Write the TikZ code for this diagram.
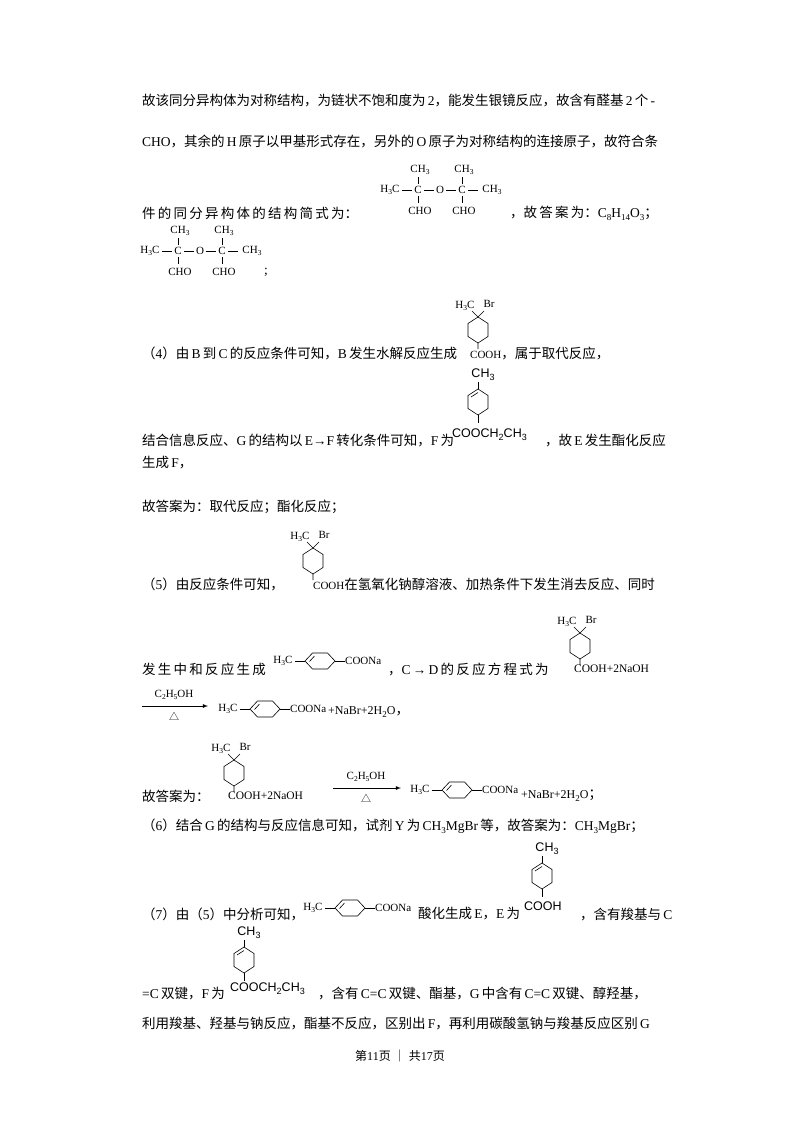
\documentclass[tikz,border=0pt]{standalone}
\usepackage{fontspec}
\setmainfont{Liberation Serif}
\newfontfamily\cjkf{Noto Sans CJK SC}
\newfontfamily\latf{Liberation Serif}
\newfontfamily\sansf{Liberation Sans}
\newXeTeXintercharclass\cjkclass
\count255="4E00
\loop\XeTeXcharclass\count255=\cjkclass\ifnum\count255<"9FFF\advance\count255 1\repeat
\count255="FF00
\loop\XeTeXcharclass\count255=\cjkclass\ifnum\count255<"FFEF\advance\count255 1\repeat
\count255="3000
\loop\XeTeXcharclass\count255=\cjkclass\ifnum\count255<"303F\advance\count255 1\repeat
\XeTeXinterchartoks 0 \cjkclass={\cjkf}
\XeTeXinterchartoks 4095 \cjkclass={\cjkf}
\XeTeXinterchartoks \cjkclass 0={\latf}
\XeTeXinterchartoks \cjkclass 4095={\latf}
\newcommand\sbs[1]{\raisebox{-3pt}{\fontsize{9}{9}\selectfont #1}}
\newcommand\csb[1]{\raisebox{-2pt}{\fontsize{7.5}{7.5}\selectfont #1}}
\tikzset{
 txt/.style={anchor=west,inner sep=0pt,font=\fontsize{13.5}{14}\selectfont},
 chem/.style={inner sep=0pt,font=\latf\fontsize{11}{11}\selectfont},
 schem/.style={inner sep=0pt,font=\sansf\fontsize{12.5}{13}\selectfont},
 bond/.style={line width=0.6pt},
 ether/.pic={
  \node[chem] at (10,0) {H\csb{3}C};
  \draw[bond] (22,0)--(32,0) (44,0)--(54,0) (66,0)--(76,0) (88,0)--(98,0);
  \node[chem] at (38,0) {C}; \node[chem] at (60,0) {O}; \node[chem] at (82,0) {C};
  \node[chem] at (112,0) {CH\csb{3}};
  \foreach \x in {38,82}{
   \draw[bond] (\x,-13)--(\x,-6) (\x,6)--(\x,13);
   \node[chem] at (\x+2,-20) {CH\csb{3}};
   \node[chem] at (\x+2,21) {CHO};}
 },
 brring/.pic={
  \draw[bond] (0,-13)--(10,-6.5)--(10,6.5)--(0,13)--(-10,6.5)--(-10,-6.5)--cycle;
  \draw[bond] (0,-13)--(-6,-19) (0,-13)--(6,-19) (0,13)--(0,19);
  \node[chem] at (-13,-24) {H\csb{3}C};
  \node[chem] at (11,-26) {Br};
 },
 mering/.pic={
  \draw[bond] (0,-13)--(10,-6.5)--(10,6.5)--(0,13)--(-10,6.5)--(-10,-6.5)--cycle;
  \draw[bond] (-7,-5)--(0,-9.5);
  \draw[bond] (0,-13)--(0,-20) (0,13)--(0,21);
  \node[schem] at (5,-27) {CH\sbs{3}};
 },
 hring/.pic={
  \node[chem] at (0,0) {H\csb{3}C};
  \draw[bond] (12,0)--(22,0) (52,0)--(62,0);
  \draw[bond] (22,0)--(29.5,-8)--(44.5,-8)--(52,0)--(44.5,8)--(29.5,8)--cycle;
  \draw[bond] (26.5,0.5)--(31.5,-5);
  \node[chem,anchor=west] at (62,0) {COONa};
 }
}
\begin{document}
\XeTeXinterchartokenstate=1
\begin{tikzpicture}[x=1pt,y=-1pt]
\useasboundingbox[fill=white] (0,0) rectangle (800,1132);
\node[txt] (l1) at (142,100) {故该同分异构体为对称结构，为链状不饱和度为\,2，能发生银镜反应，故含有醛基\,2\,个\,-};
\node[txt] (l2) at (142,141) {CHO，其余的\,H\,原子以甲基形式存在，另外的\,O\,原子为对称结构的连接原子，故符合条};
\node[txt] (l3) at (142,213) {件\,的\,同\,分\,异\,构\,体\,的\,结\,构\,简\,式\,为：};
\pic at (380,190) {ether};
\node[txt] (l3b) at (510,213) {，故\,答\,案\,为：C\sbs{8}H\sbs{14}O\sbs{3}；};
\pic at (140,251) {ether};
\node[txt] (l4) at (264,272) {;};
\pic at (478,330) {brring};
\node[txt] (l5) at (142,353) {（4）由\,B\,到\,C\,的反应条件可知，B\,发生水解反应生成};
\node[txt] (l5b) at (470,353) {\latf\fontsize{11}{11}\selectfont COOH\fontsize{13.5}{14}\selectfont，属于取代反应，};
\pic at (478,402) {mering};
\node[txt] (l6) at (142,440) {结合信息反应、G\,的结构以\,E→F\,转化条件可知，F\,为};
\node[schem,anchor=west] (f1) at (452,435) {COOCH\sbs{2}CH\sbs{3}};
\node[txt] (l6b) at (545,440) {，故\,E\,发生酯化反应};
\node[txt] (l7) at (142,463) {生成\,F，};
\node[txt] (l8) at (142,507) {故答案为：取代反应；酯化反应；};
\pic at (313,561) {brring};
\node[txt] (l9) at (142,584) {（5）由反应条件可知，};
\node[txt] (l9b) at (313,584) {\latf\fontsize{11}{11}\selectfont COOH\fontsize{13.5}{14}\selectfont 在氢氧化钠醇溶液、加热条件下发生消去反应、同时};
\node[txt] (l10) at (142,669) {发\,生\,中\,和\,反\,应\,生\,成};
\pic at (283,661) {hring};
\node[txt] (l10b) at (388,669) {，C\,→\,D\,的\,反\,应\,方\,程\,式\,为};
\pic at (580,646) {brring};
\node[txt] (l10c) at (574,669) {\latf\fontsize{11.5}{12}\selectfont COOH+2NaOH};
\coordinate (a1s) at (142,706); \coordinate (a1e) at (208,706);
\draw[-latex,line width=0.8pt] (a1s)--(a1e);
\node[chem] (a1t) at (174,695) {C\csb{2}H\csb{5}OH};
\node[inner sep=0pt,font=\cjkf\fontsize{10}{10}\selectfont] (a1b) at (174,716) {△};
\pic at (228,709) {hring};
\node[txt] (l11) at (328,712) {\latf\fontsize{12}{12}\selectfont +NaBr+2H\sbs{2}O\fontsize{13.5}{14}\selectfont，};
\node[txt] (l12) at (142,796) {故答案为：};
\pic at (234,773) {brring};
\node[txt] (l12b) at (228,796) {\latf\fontsize{11.5}{12}\selectfont COOH+2NaOH};
\coordinate (a2s) at (333,788); \coordinate (a2e) at (401,788);
\draw[-latex,line width=0.8pt] (a2s)--(a2e);
\node[chem] (a2t) at (366,777) {C\csb{2}H\csb{5}OH};
\node[inner sep=0pt,font=\cjkf\fontsize{10}{10}\selectfont] (a2b) at (366,798) {△};
\pic at (420,790) {hring};
\node[txt] (l12c) at (521,796) {\latf\fontsize{12}{12}\selectfont +NaBr+2H\sbs{2}O\fontsize{13.5}{14}\selectfont；};
\node[txt] (l13) at (142,826) {（6）结合\,G\,的结构与反应信息可知，试剂\,Y\,为\,CH\sbs{3}MgBr\,等，故答案为：CH\sbs{3}MgBr；};
\node[txt] (l14) at (142,914) {（7）由（5）中分析可知，};
\pic at (313,908) {hring};
\node[txt] (l14b) at (418,914) {酸化生成\,E，E\,为};
\pic at (542,876) {mering};
\node[schem,anchor=west] (e1) at (524,906) {COOH};
\node[txt] (l14c) at (580,914) {，含有羧基与\,C};
\pic at (244,960) {mering};
\node[txt] (l15) at (142,994) {=C\,双键，F\,为};
\node[schem,anchor=west] (f2) at (230,989) {COOCH\sbs{2}CH\sbs{3}};
\node[txt] (l15b) at (318,994) {，含有\,C=C\,双键、酯基，G\,中含有\,C=C\,双键、醇羟基，};
\node[txt] (l16) at (142,1023) {利用羧基、羟基与钠反应，酯基不反应，区别出\,F，再利用碳酸氢钠与羧基反应区别\,G};
\node[inner sep=0pt,font=\fontsize{12}{12}\selectfont] (ft) at (400,1056) {第11页 ｜ 共17页};
\end{tikzpicture}
\end{document}
